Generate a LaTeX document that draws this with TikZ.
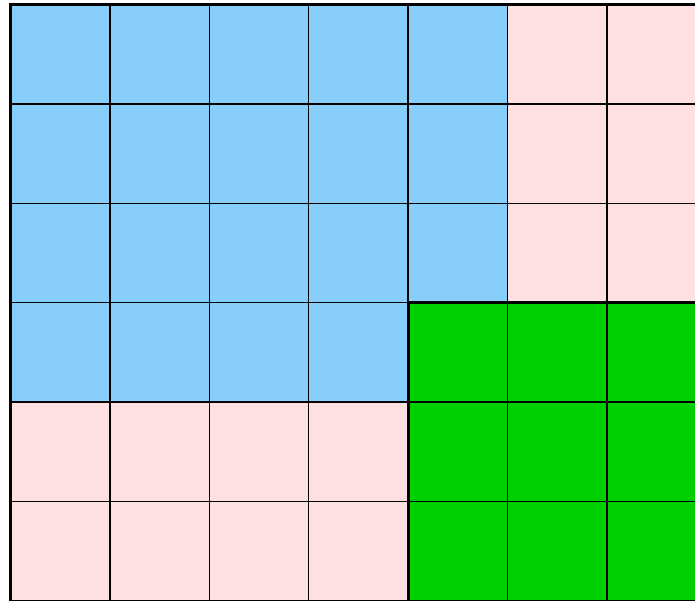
\documentclass[tikz,border=0pt]{standalone}
\definecolor{cblue}{HTML}{87CEFA}
\definecolor{cpink}{HTML}{FFE0E0}
\definecolor{cgreen}{HTML}{00D000}
\tikzset{
  cell/.style={draw=black, line width=1.4pt},
  thickb/.style={draw=black, line width=3pt},
}
\begin{document}
\begin{tikzpicture}[x=1pt,y=-1pt]
\useasboundingbox (0,0) rectangle (695,600);
\clip (0,0) rectangle (695,600);
\def\s{99.4}
\def\xo{10.5}
\def\yo{4.5}
% rows 0-2
\foreach \r in {0,1,2}{
  \foreach \c in {0,...,6}{
    \pgfmathsetmacro\col{\c<5 ? 1 : 0}
    \ifdim\col pt>0pt
      \filldraw[cell, fill=cblue] (\xo+\c*\s,\yo+\r*\s) rectangle ++(\s,\s);
    \else
      \filldraw[cell, fill=cpink] (\xo+\c*\s,\yo+\r*\s) rectangle ++(\s,\s);
    \fi
  }
}
% row 3
\foreach \c in {0,...,3}{
  \filldraw[cell, fill=cblue] (\xo+\c*\s,\yo+3*\s) rectangle ++(\s,\s);
}
% rows 4-5
\foreach \r in {4,5}{
  \foreach \c in {0,...,3}{
    \filldraw[cell, fill=cpink] (\xo+\c*\s,\yo+\r*\s) rectangle ++(\s,\s);
  }
}
% green block
\foreach \r in {3,4,5}{
  \foreach \c in {4,5,6}{
    \filldraw[cell, fill=cgreen] (\xo+\c*\s,\yo+\r*\s) rectangle ++(\s,\s);
  }
}
% thick borders
\draw[thickb] (\xo,\yo+6*\s) -- (\xo,\yo) -- (\xo+7*\s,\yo);
\draw[thickb] (\xo+4*\s,\yo+6*\s) -- (\xo+4*\s,\yo+3*\s) -- (\xo+7*\s,\yo+3*\s);
\end{tikzpicture}
\end{document}
